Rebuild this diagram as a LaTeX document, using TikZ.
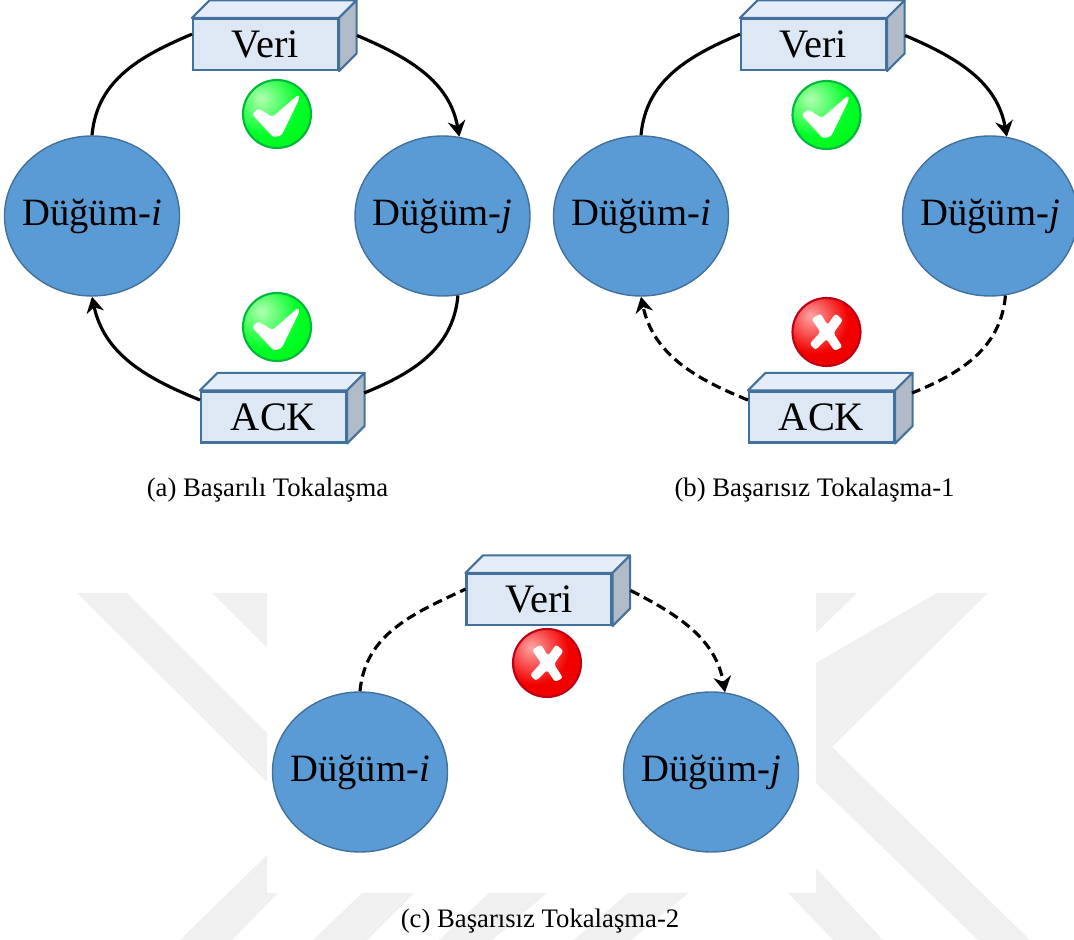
\documentclass[tikz,border=0pt]{standalone}
\usepackage{fontspec}
\setmainfont{Liberation Serif}
\usetikzlibrary{calc,arrows.meta,shapes.geometric}
\definecolor{nodeblue}{RGB}{91,155,213}
\definecolor{nodeline}{RGB}{65,113,156}
\definecolor{boxfront}{RGB}{222,232,245}
\definecolor{boxtop}{RGB}{228,237,248}
\definecolor{boxside}{RGB}{176,187,199}
\definecolor{markgray}{RGB}{240,240,240}
\definecolor{okrim}{RGB}{0,185,60}
\definecolor{failrim}{RGB}{190,0,20}
\pgfdeclareradialshading{okshade}{\pgfpoint{-12bp}{12bp}}{color(0bp)=(green!30!white);
    color(25bp)=(green!85!cyan); color(62bp)=(green!90!black); color(100bp)=(green!90!black)}
\pgfdeclareradialshading{failshade}{\pgfpoint{-12bp}{12bp}}{color(0bp)=(red!35!white);
    color(25bp)=(red!95!black); color(62bp)=(red!90!black); color(100bp)=(red!90!black)}
\begin{document}
\begin{tikzpicture}
    \useasboundingbox (0,0) rectangle (21.48,18.8);

    % Define styles
    \tikzstyle{device} = [ellipse, draw=nodeline, fill=nodeblue, line width=0.8pt, minimum width=3.5cm,
                          minimum height=3.2cm, inner xsep=-0.5cm, inner ysep=0pt, font=\fontsize{22}{24}\selectfont]
    \tikzstyle{packet} = [rectangle, draw=nodeline, fill=boxfront, line width=1.2pt, minimum width=2.9cm,
                          minimum height=1.02cm, inner sep=0pt, font=\fontsize{23}{25}\selectfont]
    \tikzstyle{topface} = [draw=nodeline, fill=boxtop, line width=1.2pt, line join=round]
    \tikzstyle{sideface} = [draw=nodeline, fill=boxside, line width=1.2pt, line join=round]
    \tikzstyle{arrow} = [line width=1.8pt, -{Stealth[length=9pt,width=10pt]}]
    \tikzstyle{link} = [line width=1.8pt]
    \tikzstyle{broken} = [dash pattern=on 5.5pt off 3pt]
    \tikzstyle{caption} = [inner sep=0pt, font=\fontsize{15.2}{17}\selectfont]
    \tikzstyle{okbadge} = [circle, minimum size=1.36cm, inner sep=0pt, draw=okrim, line width=1.2pt, shading=okshade]
    \tikzstyle{failbadge} = [circle, minimum size=1.36cm, inner sep=0pt, draw=failrim, line width=1.2pt, shading=failshade]

    % Watermark
    \fill[markgray] (1.54,6.94) -- (2.54,6.94) -- (5.34,4.14) -- (5.34,3.16) -- cycle;
    \fill[markgray] (4.24,6.94) -- (5.34,6.94) -- (5.34,5.84) -- cycle;
    \fill[markgray] (5.34,1.7) -- (3.6,0) -- (4.64,0) -- (5.56,0.94) -- (5.34,0.94) -- cycle;
    \fill[markgray] (7.24,0.94) -- (6.26,0) -- (7.34,0) -- (8.28,0.94) -- cycle;
    \fill[markgray] (9.78,0.94) -- (8.78,0) -- (9.84,0) -- (10.94,0.94) -- cycle;
    \fill[markgray] (12.56,0.94) -- (11.48,0) -- (12.62,0) -- (13.78,0.94) -- cycle;
    \fill[markgray] (16.32,6.94) -- (17.14,6.94) -- (16.32,6.14) -- cycle;
    \fill[markgray] (18.74,6.94) -- (19.76,6.94) -- (16.64,3.86) -- (20.6,0) -- (19.56,0)
        -- (16.32,3.14) -- (16.32,5.54) -- cycle;
    \fill[markgray] (16.32,1.44) -- (17.66,0) -- (16.66,0) -- (15.76,0.94) -- (16.32,0.94) -- cycle;

    % Nodes positioned absolutely
    \node[device] (nodeAi) at (1.84,14.48) {Düğüm-\textit{i}};
    \node[device] (nodeAj) at (8.85,14.48) {Düğüm-\textit{j}};
    \node[packet] (dataA) at (5.31,17.91) {Veri};
    \node[packet] (ackA) at (5.47,10.46) {ACK};
    \node[device] (nodeBi) at (12.82,14.48) {Düğüm-\textit{i}};
    \node[device] (nodeBj) at (19.8,14.48) {Düğüm-\textit{j}};
    \node[packet] (dataB) at (16.27,17.91) {Veri};
    \node[packet] (ackB) at (16.43,10.46) {ACK};
    \node[device] (nodeCi) at (7.2,3.36) {Düğüm-\textit{i}};
    \node[device] (nodeCj) at (14.22,3.36) {Düğüm-\textit{j}};
    \node[packet] (dataC) at (10.78,6.81) {Veri};

    % Box faces
    \foreach \b in {dataA,ackA,dataB,ackB,dataC} {
        \draw[topface] (\b.north west) -- ++(0.35,0.35) -- ($(\b.north east)+(0.35,0.35)$) -- (\b.north east) -- cycle;
        \draw[sideface] (\b.north east) -- ++(0.35,0.35) -- ($(\b.south east)+(0.35,0.35)$) -- (\b.south east) -- cycle;
    }

    % Badges
    \node[okbadge] (okA) at (5.54,16.52) {};
    \node[okbadge] (okB) at (5.54,12.26) {};
    \node[okbadge] (okC) at (16.53,16.5) {};
    \node[failbadge] (failA) at (16.53,12.16) {};
    \node[failbadge] (failB) at (10.94,5.54) {};
    \foreach \m in {okA,okB,okC} {
        \fill[white, rounded corners=1.5pt, shift={(\m.center)}] (-0.5,0) -- (-0.37,0.11) -- (-0.09,-0.06)
            -- (0.43,0.39) -- (0.45,0.31) -- (0.09,-0.43) -- (-0.07,-0.47) -- cycle;
    }
    \foreach \m in {failA,failB} {
        \fill[white, rounded corners=1.5pt, shift={(\m.center)}] (-0.3,0.26) -- (-0.12,0.37) -- (0.02,0.14) -- (0.18,0.37)
            -- (0.33,0.24) -- (0.14,-0.02) -- (0.32,-0.3) -- (0.16,-0.38) -- (0,-0.14) -- (-0.22,-0.36) -- (-0.34,-0.24)
            -- (-0.12,0) -- cycle;
    }

    % Arrows
    \draw[link] (nodeAi.90) to[out=85,in=203] (dataA.172);
    \draw[arrow] ($(dataA.east)+(0.36,0.18)$) to[out=-23,in=100] (nodeAj.78);
    \draw[link] (nodeAj.-79) to[out=-95,in=22] ($(ackA.east)+(0.34,0.48)$);
    \draw[arrow] (ackA.167) to[out=158,in=-78] (nodeAi.-90);

    \draw[link] (nodeBi.90) to[out=85,in=203] (dataB.172);
    \draw[arrow] ($(dataB.east)+(0.36,0.18)$) to[out=-23,in=100] (nodeBj.78);
    \draw[link,broken] (nodeBj.-79) to[out=-95,in=22] ($(ackB.east)+(0.34,0.48)$);
    \draw[arrow,broken] (ackB.167) to[out=158,in=-78] (nodeBi.-90);

    \draw[link,broken] (nodeCi.90) to[out=85,in=205] (dataC.172);
    \draw[arrow,broken] ($(dataC.east)+(0.36,0.18)$) to[out=-27,in=100] (nodeCj.80);

    % Captions
    \node[caption] (capA) at (5.35,9.0) {(a) Başarılı Tokalaşma};
    \node[caption] (capB) at (16.29,9.0) {(b) Başarısız Tokalaşma-1};
    \node[caption] (capC) at (10.8,0.38) {(c) Başarısız Tokalaşma-2};
\end{tikzpicture}
\end{document}
